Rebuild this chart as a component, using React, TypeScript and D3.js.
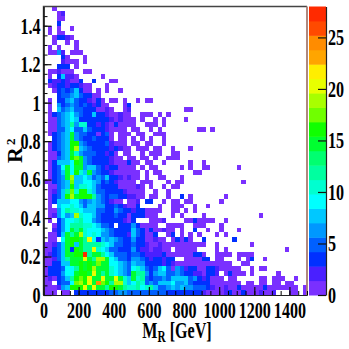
import React, { useEffect, useRef } from 'react';
import * as d3 from 'd3';

// counts per 25 GeV x 0.025 bin, top row (R2 = 1.5) first, one base-36 digit per bin, groups of ten
const rowCounts = [
  '0010000000',
  '0001200000',
  '0001100000',
  '0003000000',
  '0101001000',
  '0101100000',
  '0013321000',
  '0010010100',
  '0101000100',
  '0116201110',
  '0000310001',
  '0000211101',
  '0003330100',
  '0112111001 1',
  '0103722100 0001',
  '0322321130 0300011',
  '0123323321 1000100',
  '0013535731 1010100100',
  '0003556753 3110000000',
  '0103367533 2131011010 0101100',
  '0106356535 3231100013 0000000',
  '0107567553 3311210012 0000000000 0011',
  '0135679653 3733211211 0011101010',
  '0115679733 3333321211 1010010100 001',
  '011567c6aa 3323213111 1001110100',
  '0115579557 5333211110 1100101000 000001101',
  '013567e655 3313510111 0110011100',
  '003567e653 3533310110 1010100100',
  '013567gg65 3333521110 1101100100',
  '013567gj76 5333323211 0111011001 0001',
  '011367ea65 5533231011 0010111001 1',
  '011567ghe6 5333321101 1011010011 1',
  '0137779ge6 5333321113 1101100100 0001001',
  '01359e9ee6 7753233111 1010110000 0101001100 00001',
  '01357e9ga7 e653321111 1101011000 000011',
  '01356ej779 7565733212 1101001100 01',
  '113567h779 9763532111 1011100010 1100000000 000001',
  '011567g7aa 9753333111 1210100101 1',
  '01257chagg a755333321 1110010010',
  '01357gjegg gc65355332 2110110010 0301000000 01',
  '0137779965 6765321101 1203300101 1011000000 1',
  '010799a975 7766335321 1300001001 1100100100',
  '01169caa97 7755336533 2331111001 1010100000',
  '0126967ja9 9753335331 3331110001 0100001000 0000000001',
  '0103699ac9 9653333321 3000111200 0011311110 01',
  '001369ccca a975530333 6311110011 1100111000 1',
  '002369ecea 9997653333 7531311211 0100300100 10001',
  '01137eceja 9a96653332 7531130013 0101010001 01',
  '01109eggec k937676533 6331121101 3131003000 0003',
  '11257eg7ec ccca975533 5332112111 1111111001 00000001',
  '11357e3gec cka9755333 6322122110 1111100001 0100000000 000001',
  '12357eeggr ceec975553 5532222311 1111331001 11101111',
  '11257ceeek ecjje97553 6653233233 0011113301 1000101300 1',
  '113377eege gehee99765 7663333232 1111111111 1110011',
  '1333599cge gjeeea9765 9a75357951 6523311332 1111100101 1',
  '1333699egg ekecea9765 ecc6367755 6533221332 0131110100 0001',
  '121357cghg keekeekea7 eac5355657 7775632311 1011000001 10111001',
  '1103559hjg keohgcjja7 9ca5657779 6675333311 1111101101 1011011',
  '111267gggk ekeecggeca ac9ac75567 6766555321 1211311111 3111111101',
  '1110110333 3333355665 5555555533 3333332111 1231131112 1120001101',
];

const bandColors = [
  '#7a30ff', '#4a20ff', '#0030ff', '#0060ff', '#0098ff',
  '#00c8ff', '#00ffff', '#00ffd0', '#00ffa0', '#00ff70',
  '#00ff30', '#10ff00', '#70ff00', '#a8ff00', '#e8ff00',
  '#ffee00', '#ffa500', '#ff8c00', '#ff4a00', '#ff2a00',
];

const xTicks = [0, 200, 400, 600, 800, 1000, 1200, 1400];
const yTicks = [0, 0.2, 0.4, 0.6, 0.8, 1, 1.2, 1.4];
const zTicks = [0, 5, 10, 15, 20, 25];

const binX = 25;
const binY = 0.025;
const zMax = 28;
const fontFamily = '"Liberation Serif", serif';

const App = () => {
  const ref = useRef<SVGSVGElement>(null);

  useEffect(() => {
    const svg = d3.select(ref.current);
    svg.selectAll('*').remove();

    const x = d3.scaleLinear().domain([0, 1500]).range([43.5, 307]);
    const y = d3.scaleLinear().domain([0, 1.5]).range([295, 6.5]);
    const z = d3.scaleLinear().domain([0, zMax]).range([295, 6.5]);
    const color = d3.scaleQuantize<string>().domain([0, zMax]).range(bandColors);

    const cells: { i: number; j: number; n: number }[] = [];
    rowCounts.forEach((row, t) => {
      row.replace(/ /g, '').split('').forEach((ch, i) => {
        const n = parseInt(ch, 36);
        if (n > 0) cells.push({ i, j: rowCounts.length - 1 - t, n });
      });
    });

    svg
      .append('g')
      .selectAll('rect')
      .data(cells)
      .enter()
      .append('rect')
      .attr('x', (d) => x(d.i * binX))
      .attr('y', (d) => y((d.j + 1) * binY))
      .attr('width', x(binX) - x(0))
      .attr('height', y(0) - y(binY))
      .attr('shape-rendering', 'crispEdges')
      .attr('fill', (d) => color(d.n));

    // palette
    const bandH = (z(0) - z(zMax)) / bandColors.length;
    svg
      .append('g')
      .selectAll('rect')
      .data(bandColors)
      .enter()
      .append('rect')
      .attr('x', 309)
      .attr('y', (d, i) => z(0) - (i + 1) * bandH)
      .attr('width', 17)
      .attr('height', bandH + 0.5)
      .attr('fill', (d) => d);

    // frame
    svg
      .append('path')
      .attr('d', `M${x(0)},${y(0)}V${y(1.5)}H${x(1500)}`)
      .attr('fill', 'none')
      .attr('stroke', '#444')
      .attr('stroke-width', 1.4);
    svg
      .append('line')
      .attr('x1', x(1500))
      .attr('x2', x(1500))
      .attr('y1', y(1.5))
      .attr('y2', y(0))
      .attr('stroke', '#a87c70')
      .attr('stroke-width', 1.8);

    const styleLabels = (g: any) => {
      g.select('.domain').attr('stroke', '#222').attr('stroke-width', 1.2);
      g.selectAll('line').attr('stroke', '#111').attr('stroke-width', 1.2);
      g.selectAll('text')
        .attr('font-family', fontFamily)
        .attr('font-size', 23)
        .attr('font-weight', 'bold')
        .attr('fill', '#000')
        .attr('transform', 'scale(0.7,1)');
    };

    // x axis, minor every 50 GeV
    svg
      .append('g')
      .attr('transform', `translate(0,${y(0)})`)
      .call(d3.axisBottom(x).tickValues(d3.range(0, 1501, 50)).tickSize(-4).tickFormat(() => '').tickSizeOuter(0));
    const xAxis = svg
      .append('g')
      .attr('transform', `translate(0,${y(0)})`)
      .call(d3.axisBottom(x).tickValues(xTicks).tickSize(-8).tickSizeOuter(0).tickPadding(7).tickFormat((d) => `${d}`));
    styleLabels(xAxis);

    // y axis, minor every 0.05
    svg
      .append('g')
      .attr('transform', `translate(${x(0)},0)`)
      .call(d3.axisLeft(y).tickValues(d3.range(0, 30).map((d) => d * 0.05)).tickSize(-4).tickFormat(() => '').tickSizeOuter(0));
    const yAxis = svg
      .append('g')
      .attr('transform', `translate(${x(0)},0)`)
      .call(d3.axisLeft(y).tickValues(yTicks).tickSize(-8).tickSizeOuter(0).tickPadding(3).tickFormat((d) => `${d}`));
    styleLabels(yAxis);
    yAxis.selectAll('text').attr('x', -3 / 0.7);

    // palette axis
    const zAxis = svg
      .append('g')
      .attr('transform', 'translate(326,0)')
      .call(d3.axisRight(z).tickValues(zTicks).tickSize(-8).tickSizeOuter(0).tickPadding(2).tickFormat((d) => `${d}`));
    styleLabels(zAxis);
    zAxis.selectAll('text').attr('x', 2 / 0.7);

    // titles
    const xTitle = svg
      .append('text')
      .attr('transform', 'translate(177,338) scale(0.7,1)')
      .attr('text-anchor', 'middle')
      .attr('font-family', fontFamily)
      .attr('font-size', 23)
      .attr('font-weight', 'bold');
    xTitle.append('tspan').text('M');
    xTitle.append('tspan').attr('dy', 4).attr('font-size', 16).text('R');
    xTitle.append('tspan').attr('dy', -4).text(' [GeV]');

    const yTitle = svg
      .append('text')
      .attr('transform', 'translate(22,163) rotate(-90)')
      .attr('font-family', fontFamily)
      .attr('font-size', 22)
      .attr('font-weight', 'bold');
    yTitle.append('tspan').text('R');
    yTitle.append('tspan').attr('dy', -7).attr('dx', 2).attr('font-size', 13).text('2');
  }, []);

  return (
    <svg
      ref={ref}
      width={349}
      height={349}
      style={{ position: 'fixed', left: 0, top: 0, background: '#fff' }}
    />
  );
};

export default App;
